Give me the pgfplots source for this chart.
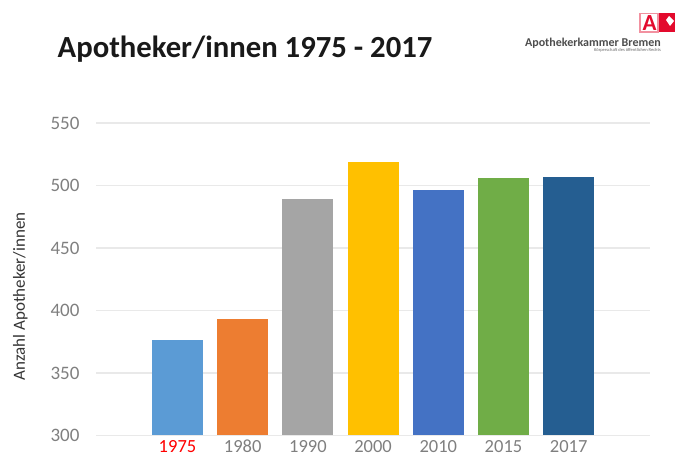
\documentclass[border=0pt]{standalone}
\usepackage{pgfplots}
\pgfplotsset{compat=1.18}
\usepackage{fontspec}
\setmainfont{Carlito}
\definecolor{c1}{HTML}{5B9BD5}
\definecolor{c2}{HTML}{ED7D31}
\definecolor{c3}{HTML}{A5A5A5}
\definecolor{c4}{HTML}{FFC000}
\definecolor{c5}{HTML}{4472C4}
\definecolor{c6}{HTML}{70AD47}
\definecolor{c7}{HTML}{255E91}
\definecolor{ticktext}{HTML}{7F7F7F}
\definecolor{gridline}{HTML}{E9E9E9}
\definecolor{logored}{HTML}{E30A2D}
\begin{document}
\begin{tikzpicture}[x=1pt,y=1pt]
\useasboundingbox (0,0) rectangle (675,457);
\begin{axis}[
  at={(96pt,21.5pt)}, anchor=south west,
  scale only axis, width=554pt, height=312.5pt,
  xmin=-1.25, xmax=7.247, ymin=300, ymax=550,
  ytick={300,350,400,450,500,550},
  xtick={0,1,2,3,4,5,6},
  xticklabels={\textcolor{red}{1975},1980,1990,2000,2010,2015,2017},
  /pgf/number format/assume math mode=true,
  yticklabel style={font=\fontsize{19}{22}\selectfont, text=ticktext, xshift=-13pt},
  xticklabel style={font=\fontsize{18.5}{20}\selectfont, text=ticktext, anchor=base, inner sep=0pt, outer sep=0pt, text depth=0pt, text height=12pt, yshift=-17pt},
  major tick length=0pt,
  axis line style={draw=none},
  ymajorgrids, grid style={draw=gridline, line width=1.2pt},
  ybar, bar width=51pt, bar shift=0pt,
  clip=false,
  ylabel={Anzahl Apotheker/innen},
  ylabel style={font=\fontsize{17}{20}\selectfont, text=black!80, at={(axis description cs:-0.117,0.445)}, anchor=south},
]
\addplot[fill=c1, draw=none] coordinates {(0,376)};
\addplot[fill=c2, draw=none] coordinates {(1,393)};
\addplot[fill=c3, draw=none] coordinates {(2,489)};
\addplot[fill=c4, draw=none] coordinates {(3,519)};
\addplot[fill=c5, draw=none] coordinates {(4,496)};
\addplot[fill=c6, draw=none] coordinates {(5,506)};
\addplot[fill=c7, draw=none] coordinates {(6,507)};
\end{axis}
\node[anchor=west, inner sep=0pt, font=\fontsize{30.7}{36}\selectfont\bfseries, text=black!90] at (57.5,408) {Apotheker/innen 1975 - 2017};
% logo
\fill[white, draw=logored!45, line width=1.5pt] (640,425) rectangle (658,443.5);
\fill[logored] (659,424.5) rectangle (675,444);
\node[font=\fontsize{23}{24}\selectfont\bfseries, text=logored, inner sep=0pt] at (649.5,434) {A};
\fill[white] (669,441) -- (674,436) -- (670,431) -- (666,437) -- cycle;
\node[anchor=east, inner sep=0pt, font=\fontsize{12}{13}\selectfont\bfseries, text=black!70] at (661,414) {Apothekerkammer Bremen};
\node[anchor=east, inner sep=0pt, font=\fontsize{4.5}{5}\selectfont, text=black!60] at (661,406.5) {Körperschaft des öffentlichen Rechts};
\end{tikzpicture}
\end{document}
